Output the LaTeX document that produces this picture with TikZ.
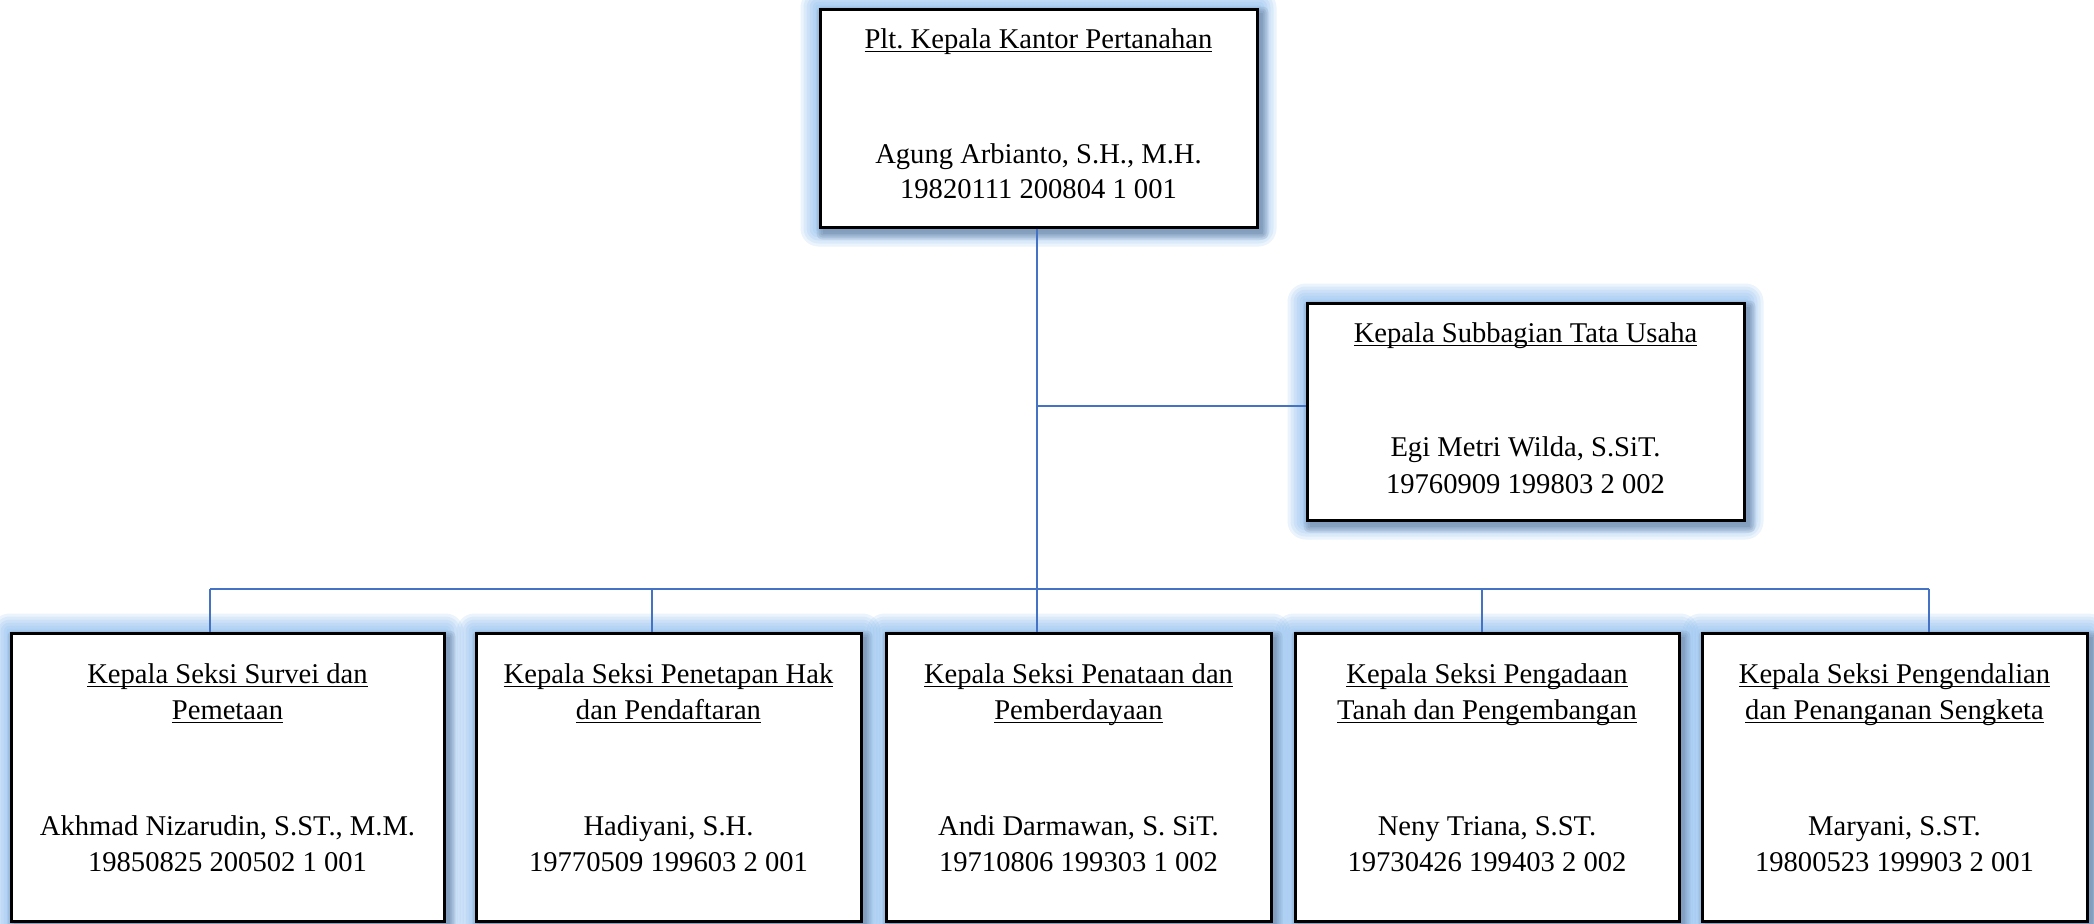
\documentclass[tikz,border=0pt]{standalone}
\usepackage{fontspec}
\setmainfont{Liberation Serif}
\frenchspacing
\newcommand\ulx[1]{\setbox0\hbox{#1}\rlap{\rule[-2.1pt]{\wd0}{0.8pt}}\box0}
\definecolor{linec}{RGB}{68,114,196}
\definecolor{glowc}{RGB}{130,182,236}
\definecolor{shadc}{RGB}{80,100,130}
\pgfdeclarelayer{background}
\pgfsetlayers{background,main}
\newcommand\glowbox[1]{%
\begin{pgfonlayer}{background}
\foreach \k in {18,15,12,9,6,3}{\fill[glowc,opacity=0.16,rounded corners=\k*0.5pt] ([shift={(-\k,-\k)}]#1.north west) rectangle ([shift={(\k,\k)}]#1.south east);}
\foreach \k in {0,2,4,6}{\fill[shadc,opacity=0.14,rounded corners=\k*0.5pt] ([shift={(4-\k,5-\k)}]#1.north west) rectangle ([shift={(4+\k,5+\k)}]#1.south east);}
\end{pgfonlayer}}
\tikzset{
  orgbox/.style={draw=black, line width=1.5pt, fill=white, inner sep=0pt, rectangle},
  conn/.style={draw=linec, line width=0.6pt},
  txt/.style={anchor=base, inner sep=0pt}
}
\begin{document}
\begin{tikzpicture}[x=0.5pt, y=-0.5pt, font=\fontsize{14.3}{18}\selectfont]
\useasboundingbox (0,0) rectangle (2094,923);
% boxes
\node[orgbox, minimum width=218.5pt, minimum height=109pt] (top) at (1038.5,118) {};
\node[orgbox, minimum width=218.5pt, minimum height=108.5pt] (ru) at (1525.5,411.5) {};
\node[orgbox, minimum width=216.5pt, minimum height=144pt] (b1) at (227.5,777) {};
\node[orgbox, minimum width=192.5pt, minimum height=144pt] (b2) at (668.5,777) {};
\node[orgbox, minimum width=192.5pt, minimum height=144pt] (b3) at (1078.5,777) {};
\node[orgbox, minimum width=192pt, minimum height=144pt] (b4) at (1487,777) {};
\node[orgbox, minimum width=192.5pt, minimum height=144pt] (b5) at (1894.5,777) {};
\glowbox{top}\glowbox{ru}\glowbox{b1}\glowbox{b2}\glowbox{b3}\glowbox{b4}\glowbox{b5}
% texts
\node[txt] (t0a) at (1038.5,48) {\ulx{Plt. Kepala Kantor Pertanahan}};
\node[txt] (t0b) at (1038.5,163) {Agung Arbianto, S.H., M.H.};
\node[txt] (t0c) at (1038.5,198) {19820111 200804 1 001};
\node[txt] (tra) at (1525.5,342) {\ulx{Kepala Subbagian Tata Usaha}};
\node[txt] (trb) at (1525.5,456) {Egi Metri Wilda, S.SiT.};
\node[txt] (trc) at (1525.5,493) {19760909 199803 2 002};
\node[txt] (t1a) at (227.5,683) {\ulx{Kepala Seksi Survei dan}};
\node[txt] (t1b) at (227.5,719) {\ulx{Pemetaan}};
\node[txt] (t1c) at (227.5,835) {Akhmad Nizarudin, S.ST., M.M.};
\node[txt] (t1d) at (227.5,871) {19850825 200502 1 001};
\node[txt] (t2a) at (668.5,683) {\ulx{Kepala Seksi Penetapan Hak}};
\node[txt] (t2b) at (668.5,719) {\ulx{dan Pendaftaran}};
\node[txt] (t2c) at (668.5,835) {Hadiyani, S.H.};
\node[txt] (t2d) at (668.5,871) {19770509 199603 2 001};
\node[txt] (t3a) at (1078.5,683) {\ulx{Kepala Seksi Penataan dan}};
\node[txt] (t3b) at (1078.5,719) {\ulx{Pemberdayaan}};
\node[txt] (t3c) at (1078.5,835) {Andi Darmawan, S. SiT.};
\node[txt] (t3d) at (1078.5,871) {19710806 199303 1 002};
\node[txt] (t4a) at (1487,683) {\ulx{Kepala Seksi Pengadaan}};
\node[txt] (t4b) at (1487,719) {\ulx{Tanah dan Pengembangan}};
\node[txt] (t4c) at (1487,835) {Neny Triana, S.ST.};
\node[txt] (t4d) at (1487,871) {19730426 199403 2 002};
\node[txt] (t5a) at (1894.5,683) {\ulx{Kepala Seksi Pengendalian}};
\node[txt] (t5b) at (1894.5,719) {\ulx{dan Penanganan Sengketa}};
\node[txt] (t5c) at (1894.5,835) {Maryani, S.ST.};
\node[txt] (t5d) at (1894.5,871) {19800523 199903 2 001};
% connectors
\coordinate (d1) at (210,589);
\coordinate (d2) at (652,589);
\coordinate (d3) at (1037,589);
\coordinate (d4) at (1482,589);
\coordinate (d5) at (1929,589);
\coordinate (tap) at (1037,406);
\draw[conn] (d3 |- top.south) -- (d3);
\draw[conn] (tap) -- (tap -| ru.west);
\draw[conn] (d1) -- (d5);
\draw[conn] (d1) -- (d1 |- b1.north);
\draw[conn] (d2) -- (d2 |- b2.north);
\draw[conn] (d3) -- (d3 |- b3.north);
\draw[conn] (d4) -- (d4 |- b4.north);
\draw[conn] (d5) -- (d5 |- b5.north);
\end{tikzpicture}
\end{document}
